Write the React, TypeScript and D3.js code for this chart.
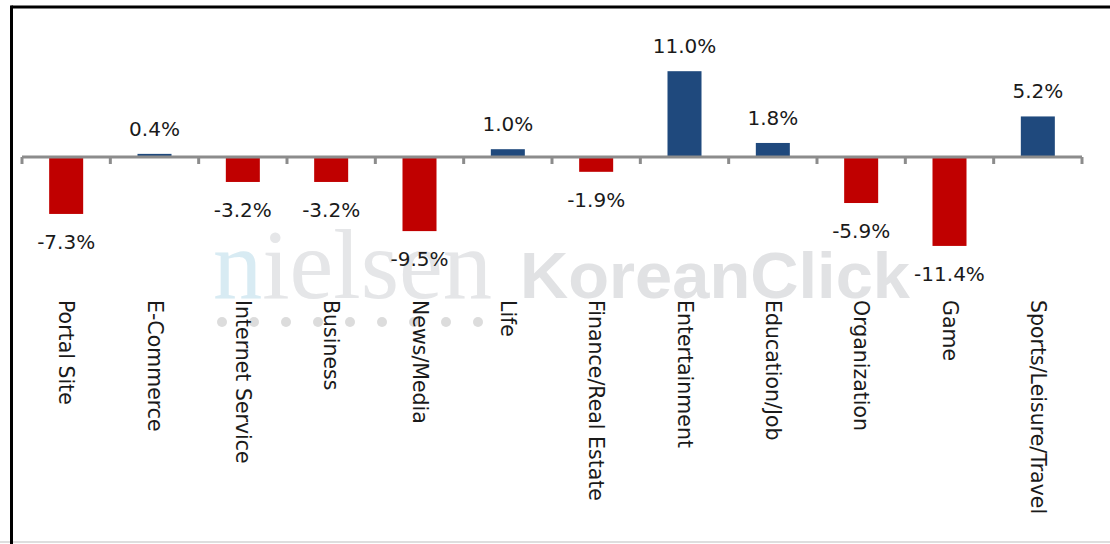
import React from "react";
import * as d3 from "d3";

// categories and year-on-year change (%)
const categories = [
  "Portal Site",
  "E-Commerce",
  "Internet Service",
  "Business",
  "News/Media",
  "Life",
  "Finance/Real Estate",
  "Entertainment",
  "Education/Job",
  "Organization",
  "Game",
  "Sports/Leisure/Travel",
];
const changes = [-7.3, 0.4, -3.2, -3.2, -9.5, 1.0, -1.9, 11.0, 1.8, -5.9, -11.4, 5.2];

const W = 1110;
const H = 544;
const FONT = "'DejaVu Sans', Verdana, sans-serif";
const POS = "#1f497d";
const NEG = "#c00000";

export default function App() {
  // scales
  const x = d3.scaleBand<string>().domain(categories).range([22, 1082]).padding(0);
  const y = d3.scaleLinear().domain([-12, 12]).range([157 + 12 * 7.8, 157 - 12 * 7.8]);
  const zero = y(0);
  const barW = x.bandwidth() * 0.385;
  const tickXs = d3.range(categories.length + 1).map((i) => x.range()[0] + i * x.step());

  const fmt = (v: number) => `${v.toFixed(1)}%`;

  // watermark dots under "nielsen"
  const dots = d3.range(9).map((i) => 222 + i * 32);

  return (
    <div style={{ position: "fixed", left: 0, top: 0 }}>
      <svg width={W} height={H} style={{ display: "block", background: "#fff" }}>
        {/* frame */}
        <line x1={0} x2={W} y1={H - 2} y2={H - 2} stroke="#bdbdbd" strokeWidth={1} />
        <line x1={11.5} x2={W} y1={7} y2={7} stroke="#000" strokeWidth={3} />
        <line x1={11.5} x2={11.5} y1={5.5} y2={H} stroke="#000" strokeWidth={3} />

        {/* watermark */}
        <g>
          <text
            x={213}
            y={298}
            fontFamily="'Liberation Serif', 'Times New Roman', serif"
            fontSize={100}
            textLength={279}
            lengthAdjust="spacingAndGlyphs"
          >
            <tspan fill="#d8ebf3">n</tspan>
            <tspan fill="#e5e6e8">ielsen</tspan>
          </text>
          <text
            x={520}
            y={298}
            fontFamily="'Liberation Sans', Arial, sans-serif"
            fontWeight="bold"
            fontSize={64}
            fill="#e1e2e4"
            textLength={390}
            lengthAdjust="spacingAndGlyphs"
          >
            KoreanClick
          </text>
          {dots.map((dx) => (
            <circle key={dx} cx={dx} cy={322} r={5} fill="#dcdcdc" />
          ))}
        </g>

        {/* bars */}
        {categories.map((c, i) => {
          const v = changes[i];
          const top = Math.min(y(v), zero);
          const h = Math.abs(y(v) - zero);
          return (
            <rect
              key={c}
              x={(x(c) ?? 0) + (x.bandwidth() - barW) / 2}
              y={top}
              width={barW}
              height={h}
              fill={v >= 0 ? POS : NEG}
            />
          );
        })}

        {/* zero axis with ticks */}
        <line x1={tickXs[0]} x2={tickXs[tickXs.length - 1]} y1={zero} y2={zero} stroke="#8c8c8c" strokeWidth={3} />
        {tickXs.map((tx) => (
          <line key={tx} x1={tx} x2={tx} y1={zero} y2={zero + 7} stroke="#8c8c8c" strokeWidth={3} />
        ))}

        {/* value labels */}
        {categories.map((c, i) => {
          const v = changes[i];
          const cx = (x(c) ?? 0) + x.bandwidth() / 2;
          const ty = v >= 0 ? y(v) - 18 : y(v) + 35;
          return (
            <text key={c} x={cx} y={ty} textAnchor="middle" fontFamily={FONT} fontSize={20} fill="#1a1a1a">
              {fmt(v)}
            </text>
          );
        })}

        {/* category labels, rotated to read downward */}
        {categories.map((c) => {
          const cx = (x(c) ?? 0) + x.bandwidth() / 2;
          const ty = 300;
          return (
            <text
              key={c}
              x={cx}
              y={ty}
              transform={`rotate(90, ${cx}, ${ty})`}
              dominantBaseline="central"
              fontFamily={FONT}
              fontSize={20.5}
              fill="#1a1a1a"
            >
              {c}
            </text>
          );
        })}
      </svg>
    </div>
  );
}
